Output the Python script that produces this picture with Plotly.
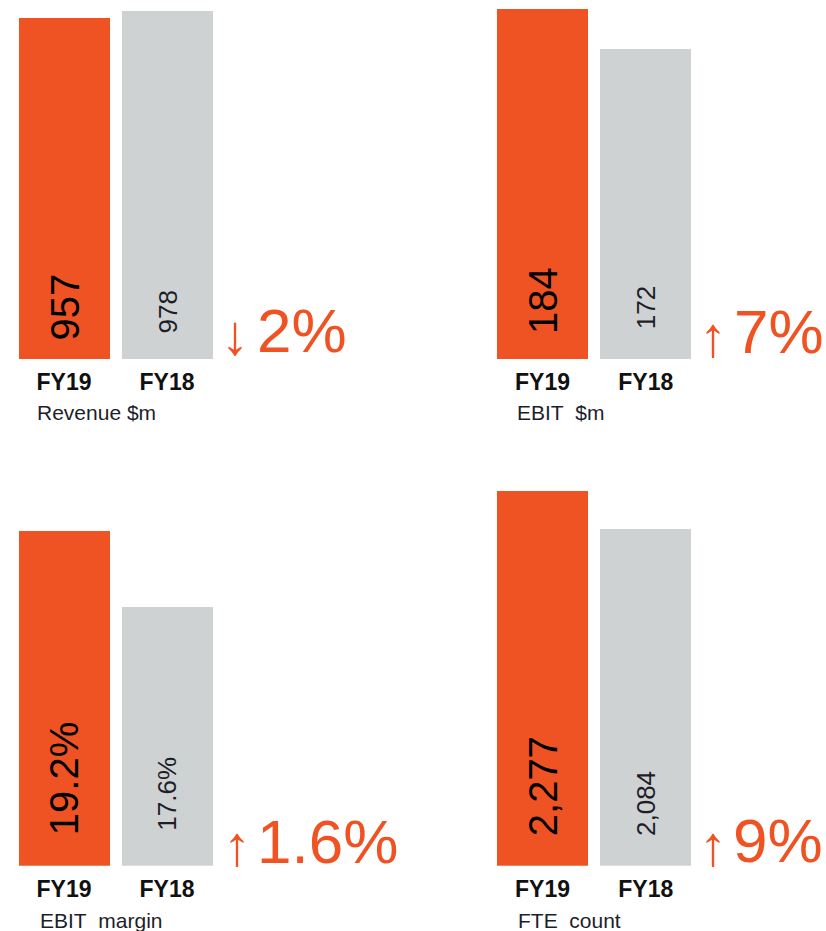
import plotly.graph_objects as go

# ---------------- data ----------------
categories = ["FY19", "FY18"]
revenue = [957, 978]
ebit = [184, 172]
ebit_margin = [19.2, 17.6]
fte_count = [2277, 2084]

revenue_labels = ["957", "978"]
ebit_labels = ["184", "172"]
margin_labels = ["19.2%", "17.6%"]
fte_labels = ["2,277", "2,084"]

panel_titles = ["Revenue $m", "EBIT\u00a0 $m", "EBIT\u00a0 margin", "FTE\u00a0 count"]
change_arrows = ["\u2193", "\u2191", "\u2191", "\u2191"]
change_values = ["2%", "7%", "1.6%", "9%"]

# ---------------- style ----------------
W, H = 826, 931
ORANGE = "#EF5323"
GRAY = "#CFD2D3"
FONT = "Arial, Liberation Sans, sans-serif"


def px_x(v):
    return v / W


def px_y(v):
    return 1 - v / H


# per panel: values, labels, x-domain px, y-domain px (top, bottom), y-range,
# label pads (orange, gray), title pos, arrow pos, number pos
panels = [
    dict(vals=revenue, labs=revenue_labels, xd=(12.5, 218.5), yd=(5, 359), yr=(0, 994.9),
         pads=(17, 24), title=(36, 413), arrow=(235, 334.5), num=(256, 330.5)),
    dict(vals=ebit, labs=ebit_labels, xd=(490.9, 697.4), yd=(5, 359), yr=(79, 185.2),
         pads=(24, 29), title=(516, 413), arrow=(713, 336.5), num=(733, 332)),
    dict(vals=ebit_margin, labs=margin_labels, xd=(12.5, 218.5), yd=(480, 865.7), yr=(12.16, 20.28),
         pads=(29, 34), title=(39, 920), arrow=(236.5, 845), num=(256, 841.5)),
    dict(vals=fte_count, labs=fte_labels, xd=(490.9, 697.4), yd=(480, 865.7), yr=(375.5, 2334.4),
         pads=(28, 29), title=(517, 920), arrow=(713, 845), num=(732, 840.5)),
]

fig = go.Figure()
annotations = []
layout_axes = {}

for i, p in enumerate(panels):
    n = "" if i == 0 else str(i + 1)
    fig.add_trace(go.Bar(
        x=categories, y=p["vals"],
        marker=dict(color=[ORANGE, GRAY], line=dict(width=0)),
        width=0.88, xaxis="x" + n, yaxis="y" + n,
        hoverinfo="skip", showlegend=False,
    ))
    layout_axes["xaxis" + n] = dict(
        domain=[px_x(p["xd"][0]), px_x(p["xd"][1])], range=[-0.5, 1.5],
        anchor="y" + n, showgrid=False, zeroline=False, showline=False, ticks="",
        tickfont=dict(family=FONT, size=23, color="#111111", weight="bold"),
        ticklabelstandoff=7, fixedrange=True,
    )
    layout_axes["yaxis" + n] = dict(
        domain=[px_y(p["yd"][1]), px_y(p["yd"][0])], range=list(p["yr"]),
        anchor="x" + n, visible=False, fixedrange=True,
    )
    # value labels inside bars
    for j, cat in enumerate(categories):
        big = j == 0
        annotations.append(dict(
            x=cat, y=p["yr"][0], xref="x" + n, yref="y" + n,
            text=p["labs"][j], textangle=-90, showarrow=False,
            xanchor="center", yanchor="bottom", yshift=p["pads"][j], borderpad=0,
            font=dict(family=FONT, size=40 if big else 26,
                      color="#000000" if big else "#1e1e2a"),
        ))
    # panel title
    annotations.append(dict(
        x=px_x(p["title"][0]), y=px_y(p["title"][1]), xref="paper", yref="paper",
        text=panel_titles[i], showarrow=False, xanchor="left", yanchor="middle",
        borderpad=0, font=dict(family=FONT, size=21, color="#1e1e2a"),
    ))
    # change arrow and value
    annotations.append(dict(
        x=px_x(p["arrow"][0]), y=px_y(p["arrow"][1]), xref="paper", yref="paper",
        text=change_arrows[i], showarrow=False, xanchor="center", yanchor="middle",
        borderpad=0, font=dict(family=FONT, size=56, color=ORANGE),
    ))
    annotations.append(dict(
        x=px_x(p["num"][0]), y=px_y(p["num"][1]), xref="paper", yref="paper",
        text=change_values[i], showarrow=False, xanchor="left", yanchor="middle",
        borderpad=0, font=dict(family=FONT, size=62, color=ORANGE),
    ))

fig.update_layout(
    width=W, height=H, autosize=False,
    margin=dict(l=0, r=0, t=0, b=0),
    paper_bgcolor="white", plot_bgcolor="white",
    showlegend=False, bargap=0,
    annotations=annotations,
    **layout_axes,
)

fig.write_html(
    "out.html",
    config={"displayModeBar": False},
    post_script="document.body.style.margin='0';document.body.style.overflow='hidden';",
)
